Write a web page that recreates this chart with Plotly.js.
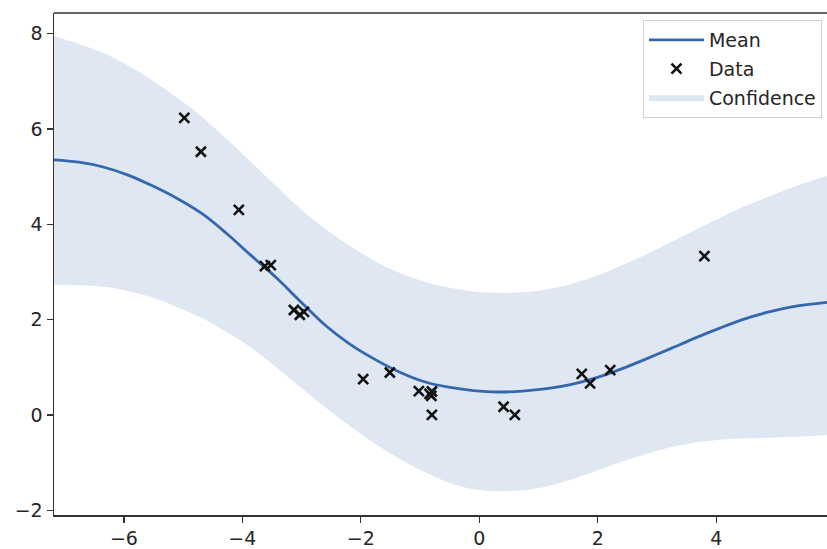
<!DOCTYPE html>
<html>
<head>
<meta charset="utf-8">
<script src="https://cdn.plot.ly/plotly-3.0.1.min.js"></script>
<style>html,body{margin:0;padding:0;background:#fff;overflow:hidden;}</style>
</head>
<body>
<div id="chart" style="width:827px;height:549px;"></div>
<script>
// Grid on which the predictive curve was read
var gridX = [-7.18, -6.76, -6.35, -5.93, -5.51, -5.10, -4.68, -4.27, -3.85, -3.43, -3.02, -2.60, -2.18, -1.77, -1.35, -0.94, -0.52, -0.10, 0.31, 0.73, 1.14, 1.56, 1.98, 2.39, 2.81, 3.23, 3.64, 4.06, 4.47, 4.89, 5.30, 5.87];
var meanY  = [5.35, 5.30, 5.20, 5.03, 4.80, 4.54, 4.22, 3.81, 3.34, 2.88, 2.38, 1.88, 1.48, 1.17, 0.90, 0.70, 0.58, 0.51, 0.48, 0.50, 0.55, 0.64, 0.78, 0.96, 1.17, 1.39, 1.61, 1.82, 2.01, 2.16, 2.27, 2.36];
var upperY = [7.94, 7.78, 7.59, 7.33, 7.01, 6.65, 6.25, 5.79, 5.30, 4.80, 4.32, 3.90, 3.54, 3.23, 2.98, 2.80, 2.67, 2.59, 2.56, 2.57, 2.63, 2.75, 2.92, 3.13, 3.36, 3.62, 3.88, 4.13, 4.37, 4.58, 4.78, 5.01];
var lowerY = [2.73, 2.72, 2.69, 2.60, 2.46, 2.26, 2.03, 1.74, 1.41, 1.00, 0.58, 0.16, -0.24, -0.60, -0.92, -1.19, -1.42, -1.56, -1.60, -1.58, -1.50, -1.35, -1.17, -0.99, -0.82, -0.68, -0.58, -0.52, -0.49, -0.48, -0.46, -0.42];

// Observed data
var dataX = [-4.98, -4.70, -4.06, -3.62, -3.52, -3.13, -3.03, -2.96, -1.96, -1.51, -1.02, -0.84, -0.80, -0.81, -0.80, 0.41, 0.60, 1.73, 1.87, 2.21, 3.80];
var dataY = [6.23, 5.52, 4.30, 3.12, 3.14, 2.20, 2.10, 2.16, 0.75, 0.89, 0.50, 0.44, 0.49, 0.40, 0.00, 0.17, 0.00, 0.86, 0.66, 0.94, 3.33];

var xTickVals = [-6, -4, -2, 0, 2, 4];
var yTickVals = [-2, 0, 2, 4, 6, 8];

var bandColor = 'rgba(214,224,239,0.78)';
var traces = [
  {x: gridX, y: upperY, type: 'scatter', mode: 'lines', line: {width: 0, shape: 'spline', color: bandColor}, showlegend: false, hoverinfo: 'skip', legendgroup: 'c'},
  {x: gridX, y: lowerY, type: 'scatter', mode: 'lines', fill: 'tonexty', fillcolor: bandColor, line: {width: 0, shape: 'spline', color: bandColor}, name: 'Confidence', legendrank: 3, legendgroup: 'c'},
  {x: gridX, y: meanY, type: 'scatter', mode: 'lines', line: {color: '#3567ac', width: 2.8, shape: 'spline'}, name: 'Mean', legendrank: 1, legendgroup: 'a'},
  {x: dataX, y: dataY, type: 'scatter', mode: 'markers', marker: {symbol: 'x-thin', size: 10, color: '#111', line: {color: '#111', width: 2.6}}, name: 'Data', legendrank: 2, legendgroup: 'b'}
];

var layout = {
  width: 827, height: 549,
  margin: {l: 54, r: 0, t: 13, b: 34},
  paper_bgcolor: '#fff', plot_bgcolor: '#fff',
  font: {family: 'DejaVu Sans, sans-serif', size: 19, color: '#262626'},
  showlegend: true,
  legend: {x: 0.9935, xanchor: 'right', y: 0.986, yanchor: 'top', bgcolor: 'rgba(255,255,255,0.85)', bordercolor: '#d0d0d0', borderwidth: 1, font: {size: 19, color: '#262626'}, traceorder: 'grouped', tracegroupgap: 1, itemwidth: 55},
  xaxis: {range: [-7.18, 5.87], tickvals: xTickVals, ticks: 'outside', ticklen: 6, tickwidth: 1.3, tickcolor: '#333', showgrid: false, zeroline: false, showline: true, linecolor: '#333', linewidth: 1.5, mirror: false},
  yaxis: {range: [-2.1, 8.43], tickvals: yTickVals, ticks: 'outside', ticklen: 6, tickwidth: 1.3, tickcolor: '#333', showgrid: false, zeroline: false, showline: true, linecolor: '#333', linewidth: 1.5, mirror: false},
  shapes: [{type: 'line', xref: 'paper', yref: 'paper', x0: 0, x1: 1, y0: 1, y1: 1, line: {color: '#333', width: 1.5}}]
};

Plotly.newPlot('chart', traces, layout, {displayModeBar: false, staticPlot: true});
</script>
</body>
</html>
